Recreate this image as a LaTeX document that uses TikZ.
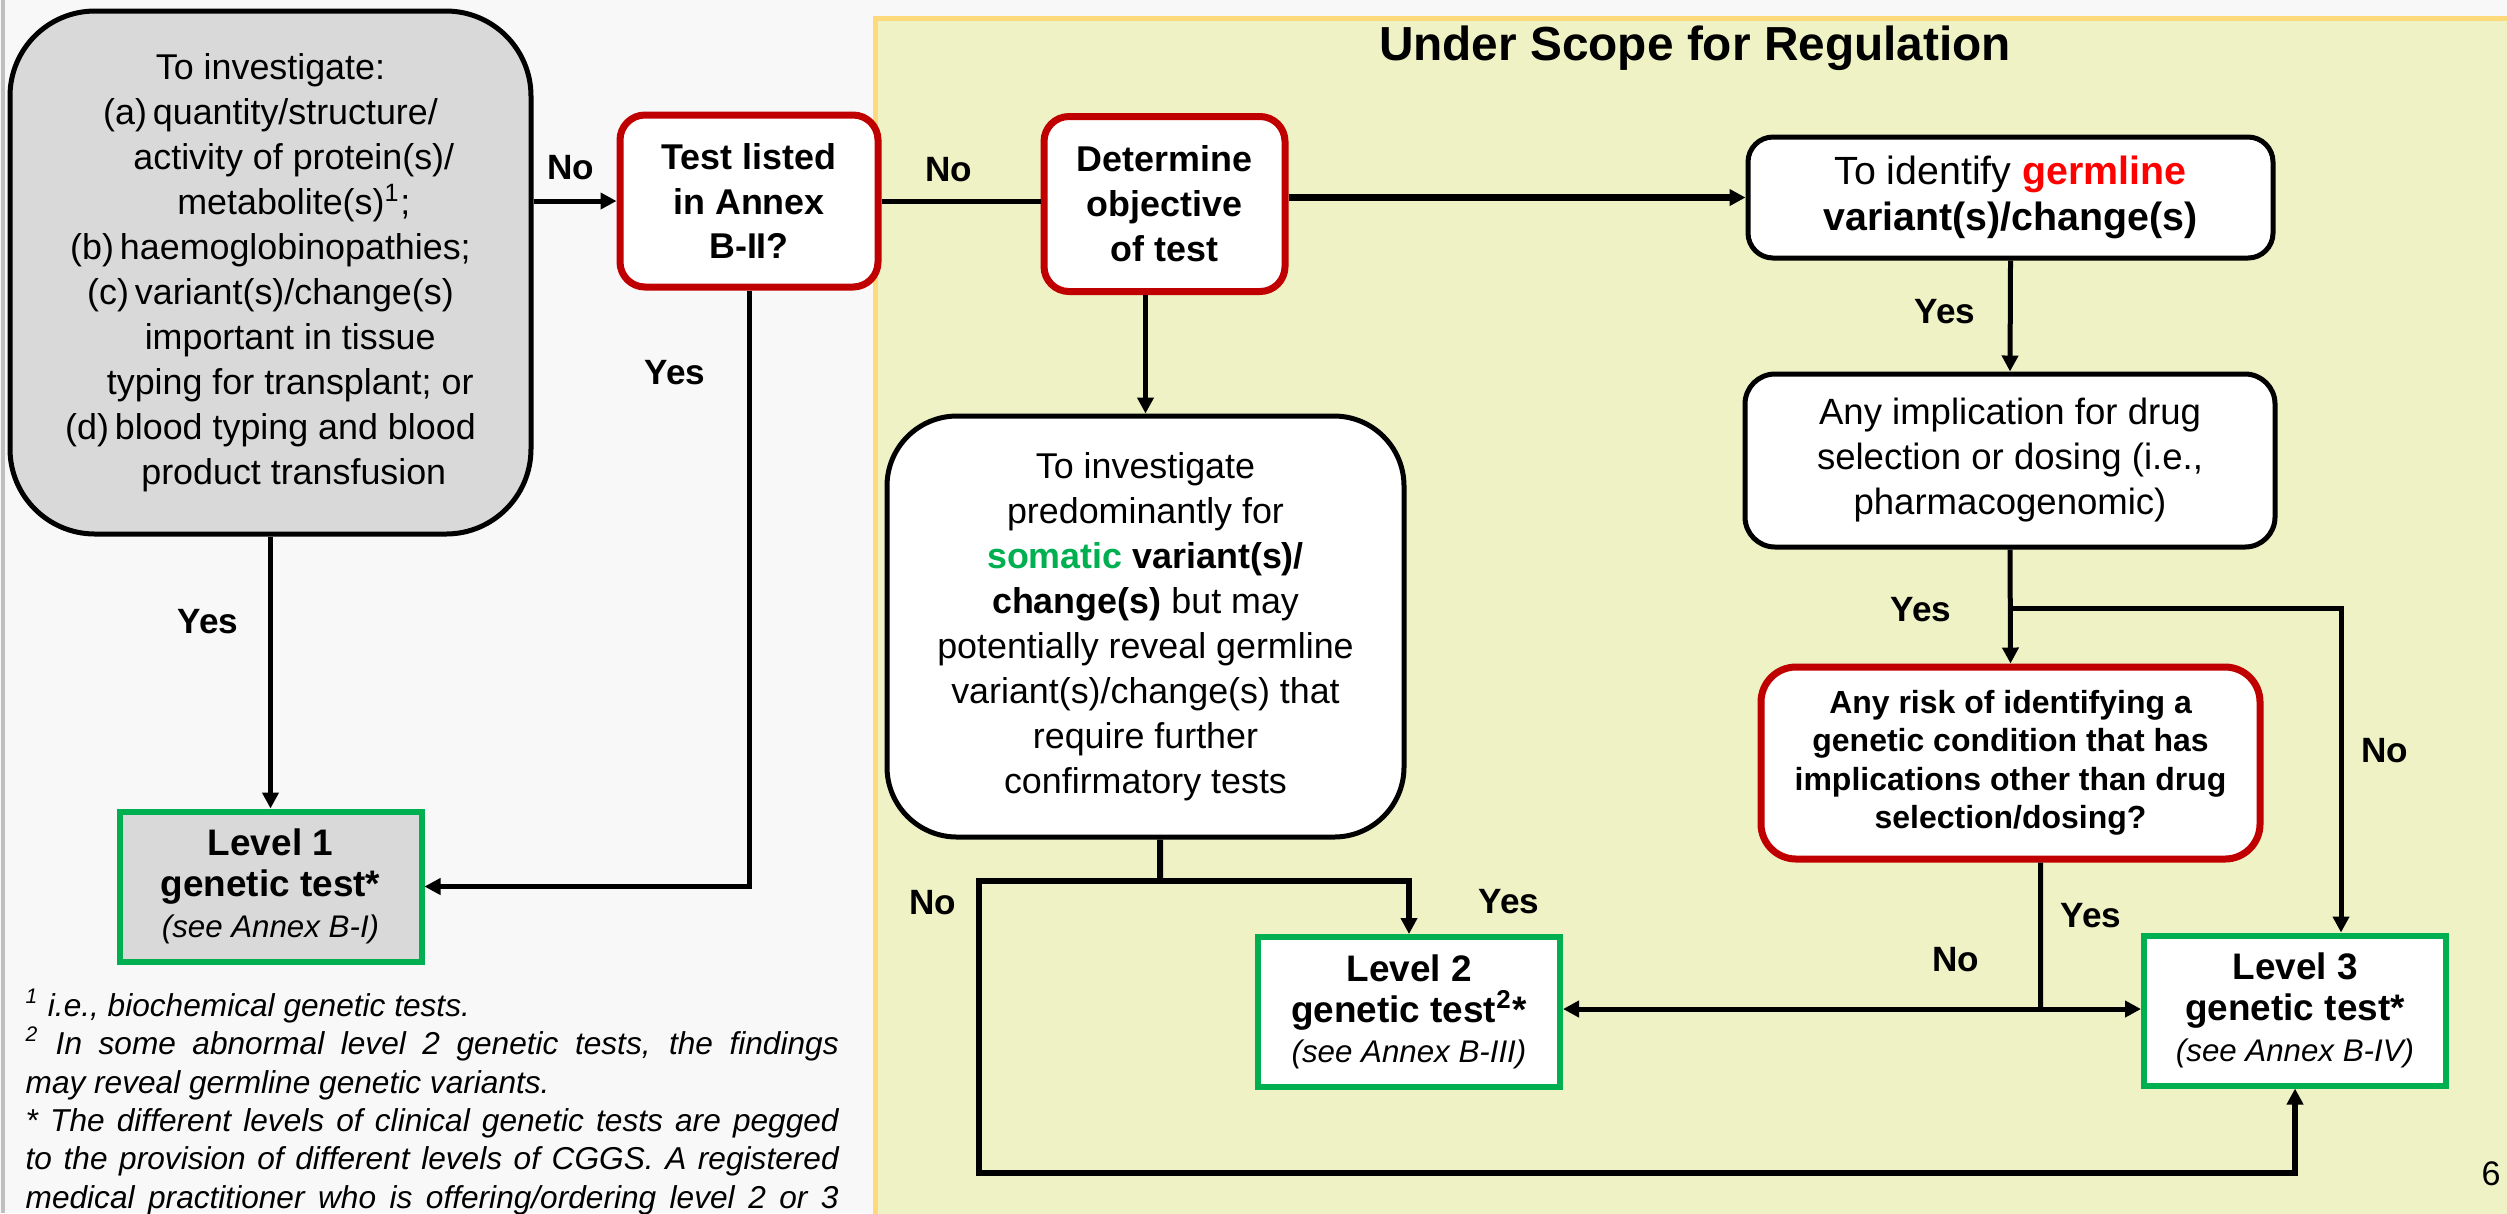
\documentclass[tikz,border=0pt]{standalone}
\usepackage{fontspec}
\setmainfont{Liberation Sans}
\usetikzlibrary{arrows.meta}
\definecolor{slidegray}{RGB}{248,248,248}
\definecolor{scopefill}{RGB}{238,242,197}
\definecolor{scopeline}{RGB}{255,218,122}
\definecolor{boxgray}{RGB}{217,217,217}
\definecolor{darkred}{RGB}{192,0,0}
\definecolor{levelgreen}{RGB}{0,176,80}
\newcommand\bodysize{\fontsize{10.2}{12.8}\selectfont}
\newcommand\annexsize{\fontsize{8.9}{10}\selectfont\itshape}

\begin{document}
\begin{tikzpicture}[x=.1mm,y=-.1mm,
  every node/.style={font=\bodysize, align=center, inner sep=0pt},
  box/.style={draw, line width=.5mm, fill=white, rounded corners=3mm},
  redbox/.style={box, draw=darkred, line width=.7mm, font=\bodysize\bfseries},
  levelbox/.style={draw=levelgreen, line width=.6mm, fill=white, minimum width=30.2mm, minimum height=15mm,
    font=\fontsize{10.5}{11.6}\selectfont},
  lbl/.style={font=\fontsize{10}{12}\selectfont\bfseries},
  link/.style={line width=.5mm},
  arr/.style={link, -{Triangle[length=1.6mm,width=1.6mm]}}]
  \useasboundingbox (0,0) rectangle (2507,1213);
  \clip (0,0) rectangle (2507,1213);
  \fill[slidegray] (0,0) rectangle (2507,1213);
  \draw[black!25, line width=.5mm] (3,0) -- (3,1213);
  \filldraw[fill=scopefill, draw=scopeline, line width=.5mm] (875.5,18.5) rectangle (2530,1240);
  \node[font=\fontsize{13.6}{16}\selectfont\bfseries] (scopetitle) at (1695,48) {Under Scope for Regulation};

  \node[box, fill=boxgray, rounded corners=8.5mm, minimum width=52.1mm, minimum height=52.3mm] (invest) at (270.5,272.5)
    {To investigate:\\ (a)\,quantity/structure/\\ \hspace*{1.3em}activity of protein(s)/\\ \hspace*{1.3em}metabolite(s)\textsuperscript{1};\\
     (b)\,haemoglobinopathies;\\ (c)\,variant(s)/change(s)\\ \hspace*{1.1em}important in tissue\\ \hspace*{1.1em}typing for transplant; or\\
     (d)\,blood typing and blood\\ \hspace*{1.3em}product transfusion};
  \node[redbox, rounded corners=2.5mm, minimum width=25.8mm, minimum height=17.2mm] (annex) at (749,201) {Test listed\\ in Annex\\ B-II?};
  \node[redbox, rounded corners=2.5mm, minimum width=24.1mm, minimum height=17.5mm] (objective) at (1164.5,204) {Determine\\ objective\\ of test};
  \node[box, rounded corners=2.5mm, minimum width=52.5mm, minimum height=12.1mm, font=\fontsize{11.2}{13.3}\selectfont] (germline) at (2010.5,197.5)
    {To identify \textcolor{red}{\bfseries germline}\\ \textbf{variant(s)/change(s)}};
  \node[box, minimum width=53mm, minimum height=17.3mm, font=\fontsize{10.4}{12.8}\selectfont] (pharma) at (2010,460.5)
    {Any implication for drug\\ selection or dosing (i.e.,\\ pharmacogenomic)};
  \node[redbox, rounded corners=3.5mm, minimum width=49.9mm, minimum height=19.2mm, font=\fontsize{9.1}{10.95}\selectfont\bfseries] (risk) at (2010.5,763)
    {Any risk of identifying a\\ genetic condition that has\\ implications other than drug\\ selection/dosing?};
  \node[box, rounded corners=7mm, minimum width=51.7mm, minimum height=42.1mm] (somatic) at (1145.5,626.5)
    {To investigate\\ predominantly for\\ \textcolor{levelgreen}{\bfseries somatic} \textbf{variant(s)/}\\ \textbf{change(s)} but may\\
     potentially reveal germline\\ variant(s)/change(s) that\\ require further\\ confirmatory tests};
  \node[levelbox, fill=boxgray] (level1) at (270.5,886.5) {\textbf{Level 1}\\ \textbf{genetic test*}\\ {\annexsize (see Annex B-I)}};
  \node[levelbox] (level2) at (1409,1012) {\textbf{Level 2}\\ \textbf{genetic test\textsuperscript{2}*}\\ {\annexsize (see Annex B-III)}};
  \node[levelbox] (level3) at (2295,1010.5) {\textbf{Level 3}\\ \textbf{genetic test*}\\ {\annexsize (see Annex B-IV)}};

  \draw[arr] (invest.east |- annex.west) -- (annex.west);
  \draw[link] (annex.east) -- (annex.east -| objective.west);
  \draw[arr, line width=.7mm] (objective.east |- germline.west) -- (germline.west);
  \draw[arr] (somatic.north |- objective.south) -- (somatic.north);
  \draw[arr] (invest.south) -- (level1.north);
  \draw[arr] (annex.south) |- (level1.east);
  \draw[arr] (germline.south) -- (pharma.north);
  \coordinate (pharmasplit) at (2010,608);
  \draw[arr] (pharma.south) -- (risk.north);
  \draw[arr] (pharmasplit) -| ([xshift=4.6mm]level3.north);
  \coordinate (risksplit) at (2040.5,1009);
  \draw[link] ([xshift=3mm]risk.south) -- (risksplit);
  \draw[arr] (risksplit) -- (risksplit -| level3.west);
  \draw[arr] (risksplit) -- (risksplit -| level2.east);
  \coordinate (somasplit) at (1160,881);
  \coordinate (nocorner) at (979,1173);
  \draw[link, line width=.6mm] ([xshift=1.45mm]somatic.south) -- (somasplit);
  \draw[arr, line width=.6mm] (somasplit) -| (level2.north);
  \draw[arr, line width=.6mm] (somasplit) -| (nocorner) -| (level3.south);

  \node[lbl] (noannex) at (571,168) {No};
  \node[lbl] (noobjective) at (949,170) {No};
  \node[lbl] (yesannex) at (675,373) {Yes};
  \node[lbl] (yesinvest) at (208,622) {Yes};
  \node[lbl] (yesgermline) at (1945,312) {Yes};
  \node[lbl] (yespharma) at (1921,610) {Yes};
  \node[lbl] (nopharma) at (2385,751) {No};
  \node[lbl] (yesrisk) at (2091,916) {Yes};
  \node[lbl] (norisk) at (1956,960) {No};
  \node[lbl] (nosomatic) at (933,903) {No};
  \node[lbl] (yessomatic) at (1509,902) {Yes};

  \node[anchor=north west, align=left, font=\fontsize{9}{10.9}\selectfont\itshape] (notes) at (25,988) {%
    \textsuperscript{1} i.e., biochemical genetic tests.\\
    \makebox[81.3mm][s]{\textsuperscript{2} In some abnormal level 2 genetic tests, the findings}\\
    may reveal germline genetic variants.\\
    \makebox[81.3mm][s]{* The different levels of clinical genetic tests are pegged}\\
    \makebox[81.3mm][s]{to the provision of different levels of CGGS. A registered}\\
    \makebox[81.3mm][s]{medical practitioner who is offering/ordering level 2 or 3}};
  \node[font=\fontsize{9.7}{12}\selectfont] (pagenum) at (2491,1174) {6};
\end{tikzpicture}
\end{document}
